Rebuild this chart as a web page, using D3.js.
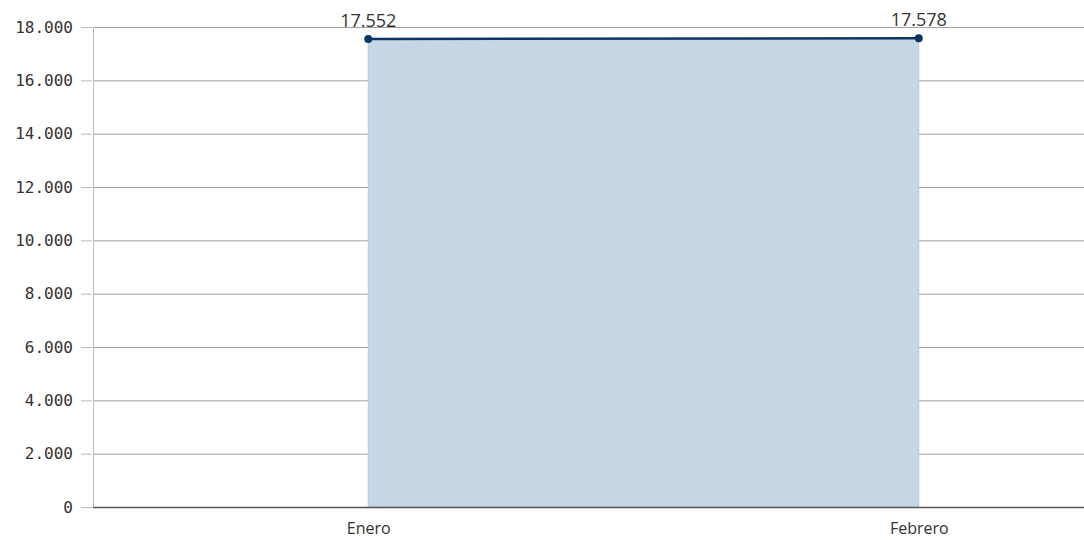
<!DOCTYPE html>
<html><head><meta charset="utf-8">
<script src="https://cdn.jsdelivr.net/npm/d3@7"></script>
<style>body{margin:0;background:#fff}svg{display:block}</style>
</head><body>
<svg id="c" width="1084" height="540"></svg>
<script>
const categories = ["Enero", "Febrero"];
const values = [17552, 17578];
const labels = ["17.552", "17.578"];
const yTicks = [0, 2000, 4000, 6000, 8000, 10000, 12000, 14000, 16000, 18000];
const yTickLabels = ["0", "2.000", "4.000", "6.000", "8.000", "10.000", "12.000", "14.000", "16.000", "18.000"];

(function(){
const svg = d3.select("#c");
const mLeft = 93, mRight = 1194, mTop = 27, mBottom = 507;
const x = d3.scalePoint().domain(categories).range([mLeft, mRight]).padding(0.5);
const y = d3.scaleLinear().domain([0, 18000]).range([mBottom, mTop]);

// grid
svg.append("g").selectAll("line").data(yTicks.slice(1)).join("line")
  .attr("x1", mLeft).attr("x2", 1084)
  .attr("y1", d => y(d) + 0.5).attr("y2", d => y(d) + 0.5)
  .attr("stroke", "#a0a0a0").attr("stroke-width", 1);

// area
const data = categories.map((c, i) => ({c, v: values[i], l: labels[i]}));
svg.append("path").datum(data)
  .attr("d", d3.area().x(d => x(d.c)).y0(y(0)).y1(d => y(d.v)))
  .attr("fill", "#c6d6e5").attr("stroke", "#b4c8dc").attr("stroke-width", 1);

// y axis
const yAxis = d3.axisLeft(y).tickValues(yTicks).tickFormat((d, i) => yTickLabels[i]).tickSize(12).tickPadding(8);
const gy = svg.append("g").attr("transform", `translate(${mLeft},0)`).call(yAxis);
gy.select(".domain").attr("stroke", "#bbbbbb").attr("d", `M0.5,${mTop}V${mBottom}`);
gy.selectAll(".tick line").attr("stroke", "#bbbbbb").attr("x1", -1);
gy.selectAll(".tick text").attr("font-family", "DejaVu Sans Mono").attr("font-size", 16).attr("fill", "#333");

// x axis baseline
const xAxis = d3.axisBottom(x).tickSize(0).tickPadding(16);
const gx = svg.append("g").attr("transform", `translate(0,${mBottom})`).call(xAxis);
gx.select(".domain").attr("stroke", "#555").attr("stroke-width", 1.5).attr("d", `M${mLeft},0.5H1084`);
gx.selectAll(".tick text").attr("font-family", "Open Sans").attr("font-size", 16).attr("fill", "#333");

// line
svg.append("path").datum(data)
  .attr("d", d3.line().x(d => x(d.c)).y(d => y(d.v)))
  .attr("fill", "none").attr("stroke", "#0e3463").attr("stroke-width", 2.5);

svg.append("g").selectAll("circle").data(data).join("circle")
  .attr("cx", d => x(d.c)).attr("cy", d => y(d.v)).attr("r", 4)
  .attr("fill", "#0e3463");

svg.append("g").selectAll("text").data(data).join("text")
  .attr("x", d => x(d.c)).attr("y", d => y(d.v) - 12)
  .attr("text-anchor", "middle")
  .attr("font-family", "Open Sans").attr("font-size", 18).attr("fill", "#333")
  .text(d => d.l);
})();
</script>
</body></html>
